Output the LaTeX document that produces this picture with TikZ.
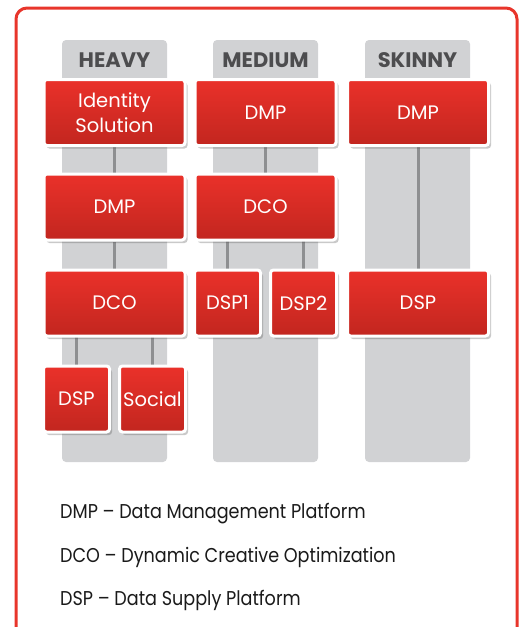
\documentclass[tikz,border=0pt]{standalone}
\usepackage{fontspec}
\setmainfont{Poppins}
\newfontfamily\legendfont{Poppins}[FakeStretch=0.88]
\usetikzlibrary{shadows}
\definecolor{frameRed}{HTML}{E8352B}
\definecolor{boxTop}{HTML}{EA312A}
\definecolor{boxBot}{HTML}{C2261F}
\definecolor{colGray}{HTML}{D1D2D4}
\definecolor{lineGray}{HTML}{8E8F91}
\definecolor{headGray}{HTML}{4D4D4F}
\definecolor{legendText}{HTML}{1A1A1A}
\pgfdeclarelayer{bg}
\pgfsetlayers{bg,main}
\tikzset{
  redbox/.style={rounded corners=3pt, draw=white, line width=3pt,
    top color=boxTop, bottom color=boxBot, text=white,
    minimum height=66pt, inner sep=0pt, align=center,
    font=\fontsize{19.5}{25}\selectfont,
    drop shadow={shadow xshift=2.5pt, shadow yshift=-3pt, opacity=0.3, fill=black!70}},
  widebox/.style={redbox, minimum width=141pt},
  narrowbox/.style={redbox, minimum width=66pt},
  colstrip/.style={fill=colGray, rounded corners=4pt},
  conn/.style={draw=lineGray, line width=3pt},
  header/.style={text=headGray, font=\fontsize{21}{22}\selectfont\bfseries},
  legend/.style={anchor=base west, text=legendText, font=\legendfont\fontsize{20}{22}\selectfont, inner sep=0pt}
}
\begin{document}
\begin{tikzpicture}[x=1pt,y=-1pt]
\useasboundingbox (0,0) rectangle (520,627);
% frame
\draw[frameRed, line width=3pt, rounded corners=11pt] (16,660) -- (16,8) -- (517,8) -- (517,660);
% headers
\node[header] (hHeavy) at (114.5,60) {HEAVY};
\node[header] (hMedium) at (265.5,60) {MEDIUM};
\node[header] (hSkinny) at (417.5,60) {SKINNY};
% boxes
\node[widebox] (idH) at (114.5,112.5) {Identity\\Solution};
\node[widebox] (dmpM) at (265.5,112.5) {DMP};
\node[widebox] (dmpS) at (418,112.5) {DMP};
\node[widebox] (dmpH) at (114.5,207) {DMP};
\node[widebox] (dcoM) at (265.5,207) {DCO};
\node[widebox] (dcoH) at (114.5,303) {DCO};
\node[narrowbox] (dsp1) at (227.5,303) {DSP1};
\node[narrowbox] (dsp2) at (303.5,303) {DSP2};
\node[widebox] (dspS) at (418,303) {DSP};
\node[narrowbox] (dspH) at (76.5,399) {DSP};
\node[narrowbox] (soc) at (152.5,399) {Social};
% columns and connectors
\begin{pgfonlayer}{bg}
\fill[colstrip] (62,40) rectangle (167,462);
\fill[colstrip] (213,40) rectangle (318,462);
\fill[colstrip] (365,40) rectangle (470,462);
\path[conn] (idH) -- (dmpH);
\path[conn] (dmpH) -- (dcoH);
\path[conn] (dmpM) -- (dcoM);
\path[conn] (dmpS) -- (dspS);
\path[conn] (dspH.center) -- (dspH.center |- dcoH.center);
\path[conn] (soc.center) -- (soc.center |- dcoH.center);
\path[conn] (dsp1.center) -- (dsp1.center |- dcoM.center);
\path[conn] (dsp2.center) -- (dsp2.center |- dcoM.center);
\end{pgfonlayer}
% legend
\node[legend] (lg1) at (60,518) {DMP – Data Management Platform};
\node[legend] (lg2) at (60,562) {DCO – Dynamic Creative Optimization};
\node[legend] (lg3) at (60,605) {DSP – Data Supply Platform};
\end{tikzpicture}
\end{document}
